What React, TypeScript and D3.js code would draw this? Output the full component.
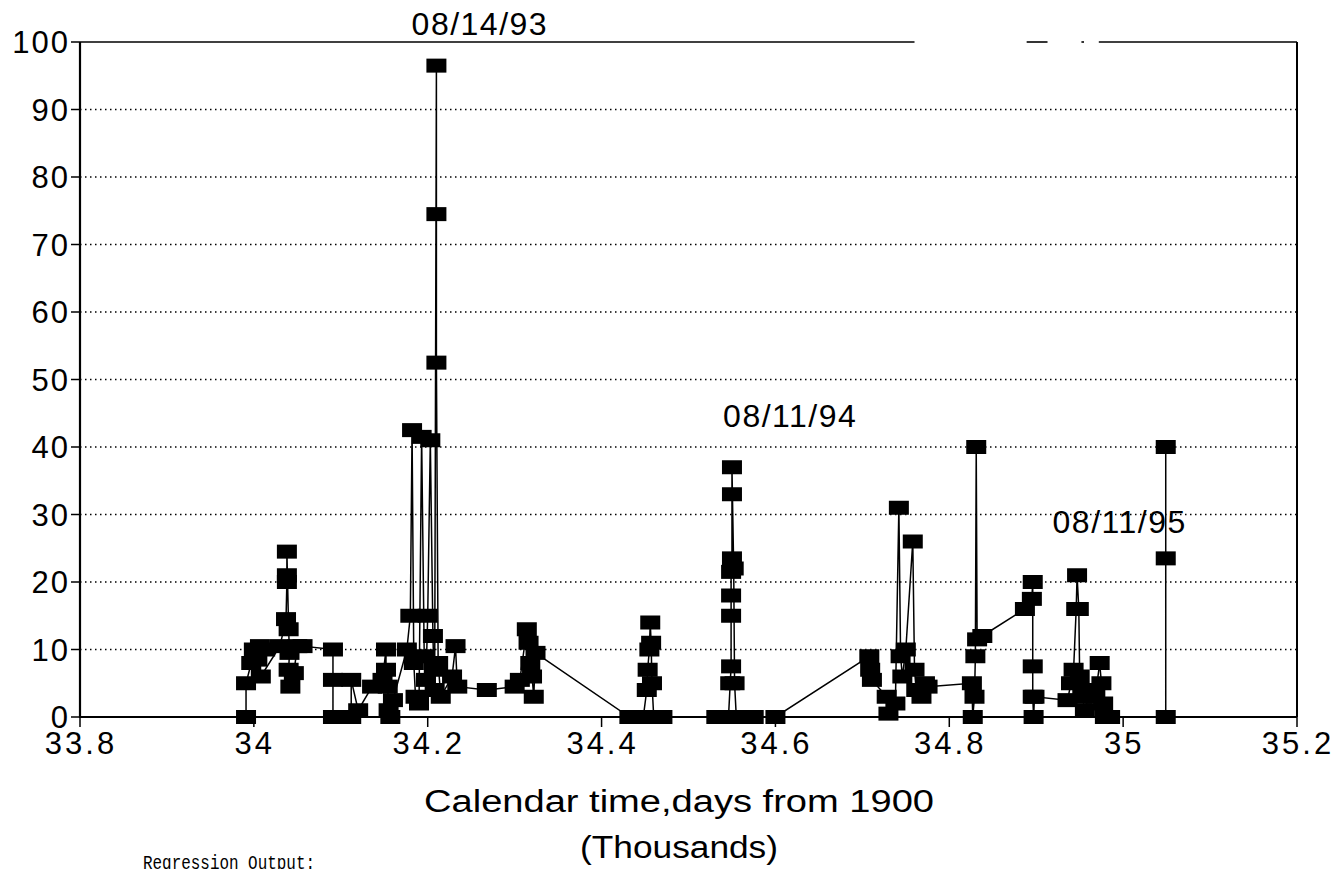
import React from "react";
import * as d3 from "d3";

// Calendar time, thousands of days from 1900
const days: number[] = [
  33.991, 33.991, 33.997, 34.0, 34.007, 34.013, 34.004, 34.008, 34.03, 34.037,
  34.038, 34.038, 34.038, 34.04, 34.041, 34.04, 34.042, 34.046, 34.05, 34.056,
  34.091, 34.091, 34.091, 34.112, 34.112, 34.12, 34.136, 34.148, 34.152, 34.152,
  34.154, 34.155, 34.157, 34.16, 34.176, 34.18, 34.182, 34.184, 34.186, 34.19,
  34.193, 34.196, 34.198, 34.2, 34.203, 34.206, 34.207, 34.208, 34.21, 34.21,
  34.21, 34.212, 34.215, 34.228, 34.232, 34.234, 34.268, 34.3, 34.306, 34.314,
  34.316, 34.318, 34.32, 34.322, 34.324, 34.432, 34.448, 34.452, 34.453, 34.455,
  34.456, 34.457, 34.458, 34.46, 34.47, 34.532, 34.546, 34.548, 34.549, 34.549,
  34.549, 34.549, 34.55, 34.55, 34.55, 34.552, 34.553, 34.555, 34.575, 34.6,
  34.708, 34.709, 34.711, 34.728, 34.73, 34.738, 34.742, 34.744, 34.746, 34.75,
  34.758, 34.76, 34.762, 34.768, 34.772, 34.775, 34.826, 34.827, 34.829, 34.83,
  34.831, 34.832, 34.838, 34.887, 34.895, 34.896, 34.896, 34.896, 34.897, 34.898,
  34.936, 34.94, 34.943, 34.946, 34.947, 34.949, 34.95, 34.953, 34.956, 34.962,
  34.968, 34.973, 34.975, 34.977, 34.979, 34.985, 35.049, 35.049, 35.049,
];

const values: number[] = [
  0, 5, 8, 10, 10.5, 10, 8.5, 6, 10.5, 14.5,
  20, 21, 24.5, 13, 9.5, 7, 4.5, 6.5, 10.5, 10.5,
  10, 5.5, 0, 0, 5.5, 1, 4.5, 5.5, 10, 7,
  4.5, 1, 0, 2.5, 10, 15, 42.5, 8, 3, 2,
  41.5, 9, 5.5, 15, 41, 12, 7, 4, 96.5, 74.5,
  52.5, 8, 3, 6, 10.5, 4.5, 4, 4.5, 5.5, 13,
  11, 8, 6, 3, 9.5, 0, 0, 4, 7, 10,
  14, 11, 5, 0, 0, 0, 0, 5, 7.5, 15,
  18, 21.5, 23.5, 33, 37, 22, 5, 0, 0, 0,
  9, 7, 5.5, 3, 0.5, 2, 31, 9, 6, 10,
  26, 7, 4, 3, 5, 4.5, 5, 0, 3, 9,
  40, 11.5, 12, 16, 17.5, 20, 7.5, 3, 0, 3,
  2.5, 5, 7, 16, 21, 16, 6, 3, 1, 4,
  3, 8, 5, 2, 0, 0, 0, 40, 23.5,
];

const xTicks: number[] = [33.8, 34, 34.2, 34.4, 34.6, 34.8, 35, 35.2];
const yTicks: number[] = [0, 10, 20, 30, 40, 50, 60, 70, 80, 90, 100];
const gridValues: number[] = [10, 20, 30, 40, 50, 60, 70, 80, 90];

const annotationText: string[] = ["08/14/93", "08/11/94", "08/11/95"];
const annotationDay: number[] = [34.26, 34.617, 34.996];
const annotationValue: number[] = [101, 42.9, 27.3];

// visible pieces of the (scanned) top frame line, in thousands of days
const topFrameFrom: number[] = [33.8, 34.889, 34.952, 34.972];
const topFrameTo: number[] = [34.76, 34.913, 34.955, 35.2];

const xTitle = "Calendar time,days from 1900";
const xSubTitle = "(Thousands)";
const footer = "Regression Output:";

export default function App() {
  const W = 1334;
  const H = 869;
  const x = d3.scaleLinear().domain([33.8, 35.2]).range([80, 1297]);
  const y = d3.scaleLinear().domain([0, 100]).range([717, 42]);
  const pts = days.map((d, i) => [x(d), y(values[i])] as [number, number]);
  const line = d3.line<[number, number]>().x((p) => p[0]).y((p) => p[1]);
  const fmt = d3.format("~g");
  const font = "'Liberation Sans', Arial, Helvetica, sans-serif";
  const mw = 20;
  const mh = 14;

  return (
    <svg
      width={W}
      height={H}
      viewBox={`0 0 ${W} ${H}`}
      style={{ position: "absolute", left: 0, top: 0, background: "#fff" }}
    >
      <rect x={0} y={0} width={W} height={H} fill="#fff" />
      {gridValues.map((g) => (
        <line
          key={"g" + g}
          x1={x(33.8)}
          x2={x(35.2)}
          y1={y(g)}
          y2={y(g)}
          stroke="#000"
          strokeWidth={1.3}
          strokeDasharray="1.5,3.5"
        />
      ))}
      {topFrameFrom.map((a, i) => (
        <line
          key={"tf" + i}
          x1={x(a)}
          x2={x(topFrameTo[i])}
          y1={y(100)}
          y2={y(100)}
          stroke="#000"
          strokeWidth={1.6}
        />
      ))}
      <line x1={x(35.2)} x2={x(35.2)} y1={y(100)} y2={y(0)} stroke="#000" strokeWidth={2} />
      <line x1={x(33.8)} x2={x(33.8)} y1={y(100)} y2={y(0) + 1} stroke="#000" strokeWidth={2.2} />
      {yTicks.map((t) => (
        <g key={"yt" + t}>
          <line x1={x(33.8) - 9} x2={x(33.8)} y1={y(t)} y2={y(t)} stroke="#000" strokeWidth={1.5} />
          <text
            x={x(33.8) - 10}
            y={y(t)}
            dy="0.36em"
            textAnchor="end"
            fontFamily={font}
            fontSize={31}
            letterSpacing={2}
            fill="#000"
          >
            {fmt(t)}
          </text>
        </g>
      ))}
      <line x1={x(33.8)} x2={x(35.2)} y1={y(0)} y2={y(0)} stroke="#000" strokeWidth={2.2} />
      {xTicks.map((t) => (
        <g key={"xt" + t}>
          <line x1={x(t)} x2={x(t)} y1={y(0)} y2={y(0) + 10} stroke="#000" strokeWidth={1.5} />
          <text
            x={x(t) + 1}
            y={y(0) + 37}
            textAnchor="middle"
            fontFamily={font}
            fontSize={31}
            letterSpacing={3}
            fill="#000"
          >
            {fmt(t)}
          </text>
        </g>
      ))}
      <path d={line(pts) || ""} fill="none" stroke="#000" strokeWidth={1.5} />
      {pts.map((p, i) => (
        <rect key={"m" + i} x={p[0] - mw / 2} y={p[1] - mh / 2} width={mw} height={mh} fill="#000" />
      ))}
      {annotationText.map((t, i) => (
        <text
          key={"a" + i}
          x={x(annotationDay[i])}
          y={y(annotationValue[i])}
          textAnchor="middle"
          fontFamily={font}
          fontSize={32}
          letterSpacing={1.5}
          fill="#000"
        >
          {t}
        </text>
      ))}
      <text
        x={679}
        y={812}
        textAnchor="middle"
        fontFamily={font}
        fontSize={31}
        textLength={510}
        lengthAdjust="spacingAndGlyphs"
        fill="#000"
      >
        {xTitle}
      </text>
      <text
        x={679}
        y={858}
        textAnchor="middle"
        fontFamily={font}
        fontSize={31}
        textLength={198}
        lengthAdjust="spacingAndGlyphs"
        fill="#000"
      >
        {xSubTitle}
      </text>
      <text
        x={143}
        y={869}
        fontFamily="'Liberation Mono', 'DejaVu Sans Mono', monospace"
        fontSize={20}
        textLength={172}
        lengthAdjust="spacingAndGlyphs"
        fill="#000"
      >
        {footer}
      </text>
    </svg>
  );
}
